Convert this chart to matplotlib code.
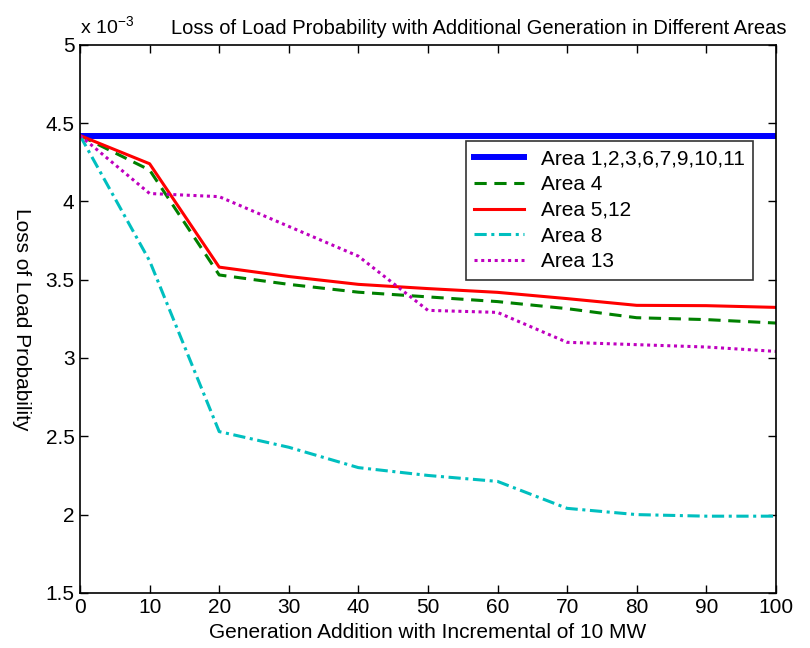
import matplotlib
matplotlib.use("Agg")
import numpy as np
import matplotlib.pyplot as plt

plt.rcParams["font.family"] = ["Liberation Sans", "DejaVu Sans"]

gen_add = [0, 10, 20, 30, 40, 50, 60, 70, 80, 90, 100]

area_base = [4.42] * 11
area_4 = [4.42, 4.20, 3.53, 3.47, 3.42, 3.39, 3.36, 3.315, 3.257, 3.245, 3.223]
area_5_12 = [4.42, 4.24, 3.58, 3.52, 3.47, 3.443, 3.419, 3.379, 3.336, 3.334, 3.323]
area_8 = [4.42, 3.62, 2.53, 2.43, 2.30, 2.25, 2.212, 2.04, 2.00, 1.99, 1.99]
area_13 = [4.42, 4.05, 4.03, 3.84, 3.65, 3.304, 3.291, 3.10, 3.085, 3.07, 3.042]

labels = ["Area 1,2,3,6,7,9,10,11", "Area 4", "Area 5,12", "Area 8", "Area 13"]

fig = plt.figure(figsize=(8.1, 6.48), dpi=100)
ax = fig.add_axes([0.0988, 0.085, 0.859, 0.846])

ax.plot(gen_add, area_base, color="#0000ff", lw=4.3, label=labels[0])
ax.plot(gen_add, area_4, color="#008000", lw=2.2, ls=(0, (4, 2.5)), label=labels[1])
ax.plot(gen_add, area_5_12, color="#ff0000", lw=2.2, ls="-", label=labels[2])
ax.plot(gen_add, area_8, color="#00bfbf", lw=2.2, ls=(0, (4, 1.5, 1, 1.5)), label=labels[3])
ax.plot(gen_add, area_13, color="#bf00bf", lw=2.2, ls=(0, (1, 1.2)), label=labels[4])

ax.set_xlim(0, 100)
ax.set_ylim(1.5, 5)
ax.set_xticks(np.arange(0, 101, 10))
ax.set_yticks(np.arange(1.5, 5.01, 0.5))
ax.set_yticklabels(["1.5", "2", "2.5", "3", "3.5", "4", "4.5", "5"])
ax.tick_params(direction="in", top=True, right=True, labelsize=15, length=6, width=1, pad=4)
for s in ax.spines.values():
    s.set_linewidth(1.2)

ax.set_xlabel("Generation Addition with Incremental of 10 MW", fontsize=15, labelpad=4)
ax.set_ylabel("Loss of Load Probability", fontsize=15, rotation=270, labelpad=24)
ax.text(0.0, 1.012, r"x 10$^{\mathregular{-3}}$", transform=ax.transAxes, fontsize=14,
        ha="left", va="bottom")
ax.set_title("Loss of Load Probability with Additional Generation in Different Areas",
             fontsize=14.5, x=0.573, pad=8)

leg = ax.legend(loc="upper right", bbox_to_anchor=(0.967, 0.824), fontsize=15,
                frameon=True, fancybox=False, edgecolor="black", handlelength=2.4,
                borderpad=0.4, labelspacing=0.32, handletextpad=0.8, borderaxespad=0)
leg.get_frame().set_linewidth(1.2)

fig.savefig("out.png", dpi=100)
